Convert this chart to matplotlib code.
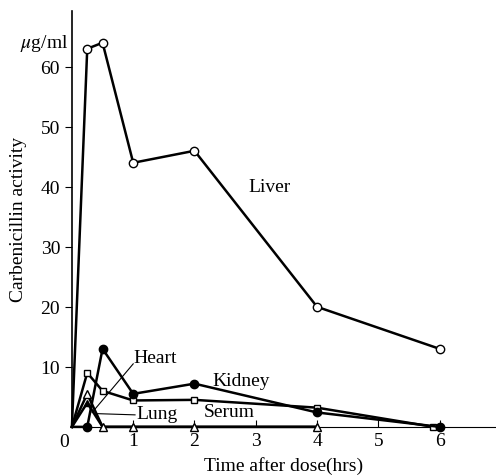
import matplotlib.pyplot as plt

plt.rcParams['font.family'] = ['Liberation Serif', 'DejaVu Serif']
plt.rcParams['mathtext.fontset'] = 'stix'

# hours after dose
t = [0, 0.25, 0.5, 1, 2, 4, 6]
liver = [0, 63, 64, 44, 46, 20, 13]
kidney_t = [0, 0.25, 0.5, 1, 2, 4, 6]
kidney = [0, 0, 13, 5.5, 7.2, 2.4, 0]
serum_t = [0, 0.25, 0.5, 1, 2, 4, 5.9]
serum = [0, 9, 6, 4.4, 4.5, 3.2, 0]
lung_t = [0, 0.25, 0.5, 1, 2, 4]
lung = [0, 5.5, 0, 0, 0, 0]
heart_t = [0, 0.25, 0.5, 1, 2, 4]
heart = [0, 4, 0, 0, 0, 0]

fig = plt.figure(figsize=(4.96, 4.77), dpi=100)
ax = fig.add_axes([0.145, 0.103, 0.855, 0.872])

lw = 1.8
skip0 = slice(1, None)  # no marker at the origin
ax.plot(heart_t, heart, '-', color='black', lw=lw, marker='^', ms=5,
        mfc='black', markevery=skip0, clip_on=False, zorder=3)
ax.plot(lung_t, lung, '-', color='black', lw=lw, marker='^', ms=6,
        mfc='white', mew=1, markevery=skip0, clip_on=False, zorder=3)
ax.plot(serum_t, serum, '-', color='black', lw=lw, marker='s', ms=5,
        mfc='white', mew=1, markevery=skip0, clip_on=False, zorder=4)
ax.plot(kidney_t, kidney, '-', color='black', lw=lw, marker='o', ms=6,
        mfc='black', markevery=skip0, clip_on=False, zorder=4)
ax.plot(t, liver, '-', color='black', lw=lw, marker='o', ms=6,
        mfc='white', mew=1, markevery=skip0, clip_on=False, zorder=4)

fs = 14
ax.text(3.23, 40, 'Liver', fontsize=fs, ha='center', va='center')
ax.text(1.0, 11.5, 'Heart', fontsize=fs, ha='left', va='center')
ax.text(2.3, 7.7, 'Kidney', fontsize=fs, ha='left', va='center')
ax.text(1.05, 2.3, 'Lung', fontsize=fs, ha='left', va='center')
ax.text(2.15, 2.6, 'Serum', fontsize=fs, ha='left', va='center')
ax.plot([1.0, 0.33], [10.5, 2.4], color='black', lw=0.8)
ax.plot([1.03, 0.42], [2.0, 2.2], color='black', lw=0.8)

ax.set_xlim(0, 6.92)
ax.set_ylim(0, 69.3)
ax.spines['top'].set_visible(False)
ax.spines['right'].set_visible(False)
ax.spines['left'].set_linewidth(1.2)
ax.spines['bottom'].set_linewidth(0.8)

ax.set_xticks([1, 2, 3, 4, 5, 6])
ax.set_yticks([10, 20, 30, 40, 50, 60])
ax.tick_params(axis='x', direction='in', length=5, labelsize=fs, pad=4)
ax.tick_params(axis='y', direction='out', length=5, labelsize=fs)
ax.text(-0.05, -1.0, '0', fontsize=fs, ha='right', va='top')
ax.text(-0.06, 64, r'$\mu$g/ml', fontsize=fs, ha='right', va='center')

ax.set_xlabel('Time after dose(hrs)', fontsize=fs, labelpad=5)
ax.set_ylabel('Carbenicillin activity', fontsize=fs, labelpad=10)

fig.savefig('out.png', dpi=100)
